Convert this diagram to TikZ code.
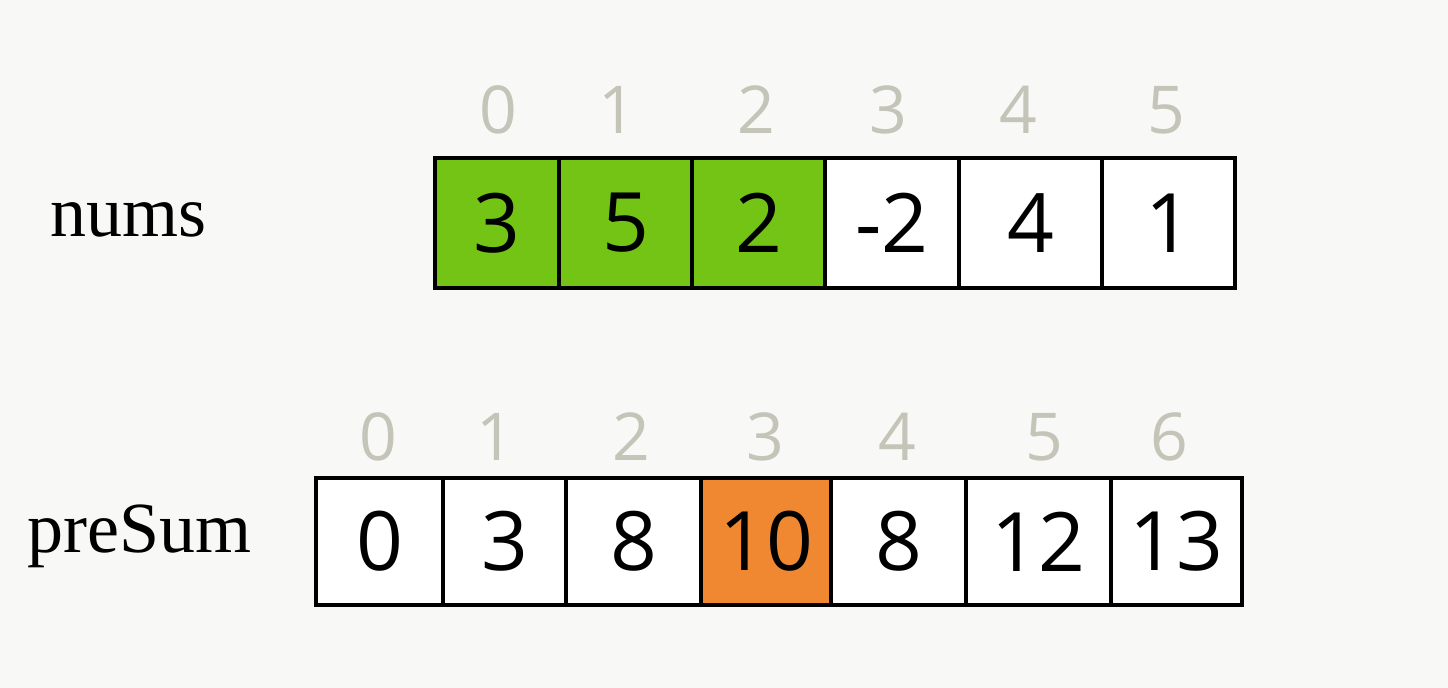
\documentclass[tikz,border=0pt]{standalone}
\usepackage{fontspec}
\setmainfont{Liberation Serif}
\newfontfamily\handfont{Open Sans}
\usepackage{tikz}

\definecolor{paper}{RGB}{248,248,246}
\definecolor{numsgreen}{RGB}{115,196,20}
\definecolor{sumorange}{RGB}{240,136,50}
\definecolor{indexgray}{RGB}{196,196,184}

\tikzset{
  cellbox/.style={draw=black, line width=2pt, fill=white},
  cellval/.style={inner sep=0.75pt, font=\handfont\fontsize{41}{41}\selectfont},
  idxval/.style={inner sep=0.75pt, text=indexgray, font=\handfont\fontsize{33}{33}\selectfont},
  arrname/.style={anchor=base west, inner sep=0pt, font=\fontsize{36}{36}\selectfont}
}

\begin{document}
\begin{tikzpicture}[x=0.5pt, y=-0.5pt]
\fill[paper] (0,0) rectangle (1448,688);
\useasboundingbox (0,0) rectangle (1448,688);

\draw (50,237) node (numsname) [arrname] {nums};
\draw (27,553) node (presumname) [arrname] {preSum};

% nums
\draw [cellbox, fill=numsgreen] (435,158) rectangle node (n0) [cellval] {3} (559,288);
\draw [cellbox, fill=numsgreen] (559,158) rectangle node (n1) [cellval] {5} (692,288);
\draw [cellbox, fill=numsgreen] (692,158) rectangle node (n2) [cellval] {2} (825,288);
\draw [cellbox] (825,158) rectangle node (n3) [cellval] {-2} (959,288);
\draw [cellbox] (959,158) rectangle node (n4) [cellval] {4} (1102,288);
\draw [cellbox] (1102,158) rectangle node (n5) [cellval] {1} (1235,288);

\draw (498,110) node (ni0) [idxval] {0};
\draw (617,110) node (ni1) [idxval] {1};
\draw (756,110) node (ni2) [idxval] {2};
\draw (888,110) node (ni3) [idxval] {3};
\draw (1018,110) node (ni4) [idxval] {4};
\draw (1166,110) node (ni5) [idxval] {5};

% preSum
\draw [cellbox] (316,478) rectangle node (p0) [cellval] {0} (443,605);
\draw [cellbox] (443,478) rectangle node (p1) [cellval] {3} (566,605);
\draw [cellbox] (566,478) rectangle node (p2) [cellval] {8} (701,605);
\draw [cellbox, fill=sumorange] (701,478) rectangle node (p3) [cellval] {10} (831,605);
\draw [cellbox] (831,478) rectangle node (p4) [cellval] {8} (966,605);
\draw [cellbox] (966,478) rectangle node (p5) [cellval] {12} (1111,605);
\draw [cellbox] (1111,478) rectangle node (p6) [cellval] {13} (1242,605);

\draw (378,437) node (pi0) [idxval] {0};
\draw (495,437) node (pi1) [idxval] {1};
\draw (631,437) node (pi2) [idxval] {2};
\draw (765,437) node (pi3) [idxval] {3};
\draw (897,437) node (pi4) [idxval] {4};
\draw (1044,437) node (pi5) [idxval] {5};
\draw (1169,437) node (pi6) [idxval] {6};

\end{tikzpicture}
\end{document}
